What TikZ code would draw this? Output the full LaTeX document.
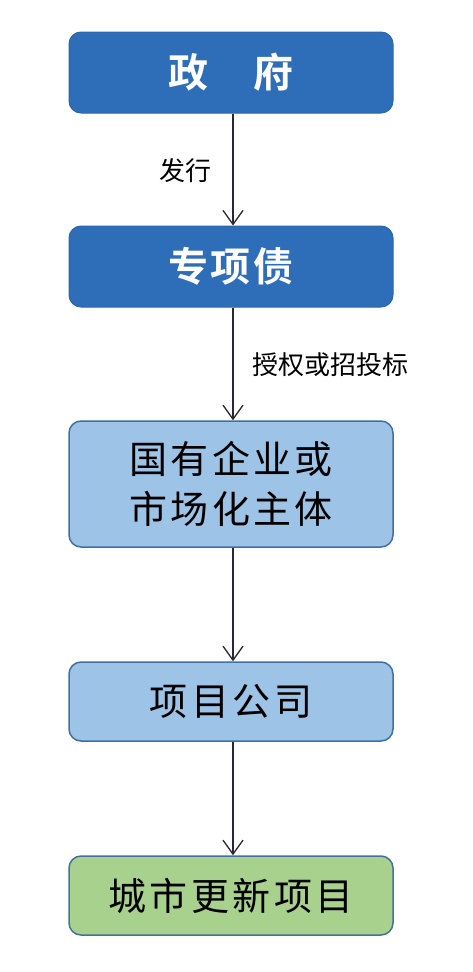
\documentclass[tikz,border=0pt]{standalone}
\usepackage{fontspec}
\usetikzlibrary{arrows.meta}
\newfontfamily\cjk{Noto Sans CJK SC}
\newfontfamily\cjkls[LetterSpace=9]{Noto Sans CJK SC}
\newfontfamily\cjkbold[LetterSpace=6,BoldFont={Noto Sans CJK SC Bold}]{Noto Sans CJK SC}
\definecolor{darkbox}{HTML}{2E6EB9}
\definecolor{darkedge}{HTML}{2B66AC}
\definecolor{lightbox}{HTML}{9DC3E6}
\definecolor{lightedge}{HTML}{3F6FA3}
\definecolor{greenbox}{HTML}{A9D18E}
\definecolor{greenedge}{HTML}{41719C}
\definecolor{arrowcol}{HTML}{2A2633}
\tikzset{
  x=1pt,y=-1pt,
  base/.style={rounded corners=12pt, minimum width=324pt, inner sep=0pt, align=center},
  darkstep/.style={base, fill=darkbox, draw=darkedge, line width=1pt, text=white, font=\cjkbold\bfseries\fontsize{40}{48}\selectfont},
  lightstep/.style={base, fill=lightbox, draw=lightedge, line width=1.5pt, text=black, font=\cjkls\fontsize{38}{50}\selectfont},
  greenstep/.style={base, fill=greenbox, draw=greenedge, line width=1.5pt, text=black, font=\cjkls\fontsize{38}{50}\selectfont},
  flow/.style={draw=arrowcol, line width=1.3pt, -{Straight Barb[length=14pt,width=20pt,line width=1.3pt]}},
  edgelabel/.style={font=\cjk\fontsize{26}{30}\selectfont, text=black}
}
\begin{document}
\begin{tikzpicture}
\useasboundingbox (0,0) rectangle (472,972);
\node[darkstep, minimum height=81pt] (gov) at (231,72.5) {政　府};
\node[darkstep, minimum height=81pt] (bond) at (231,266.5) {专项债};
\node[lightstep, minimum height=126pt] (soe) at (231,484) {国有企业或\\市场化主体};
\node[lightstep, minimum height=79pt] (pc) at (231,701.5) {项目公司};
\node[greenstep, minimum height=79pt] (urp) at (231,895.5) {城市更新项目};
\draw[flow] (gov.south -| 233,0) -- (bond.north -| 233,0);
\draw[flow] (bond.south -| 233,0) -- (soe.north -| 233,0);
\draw[flow] (soe.south -| 233,0) -- (pc.north -| 233,0);
\draw[flow] (pc.south -| 233,0) -- (urp.north -| 233,0);
\node[edgelabel] (l1) at (185,171) {发行};
\node[edgelabel] (l2) at (330,365) {授权或招投标};
\end{tikzpicture}
\end{document}
